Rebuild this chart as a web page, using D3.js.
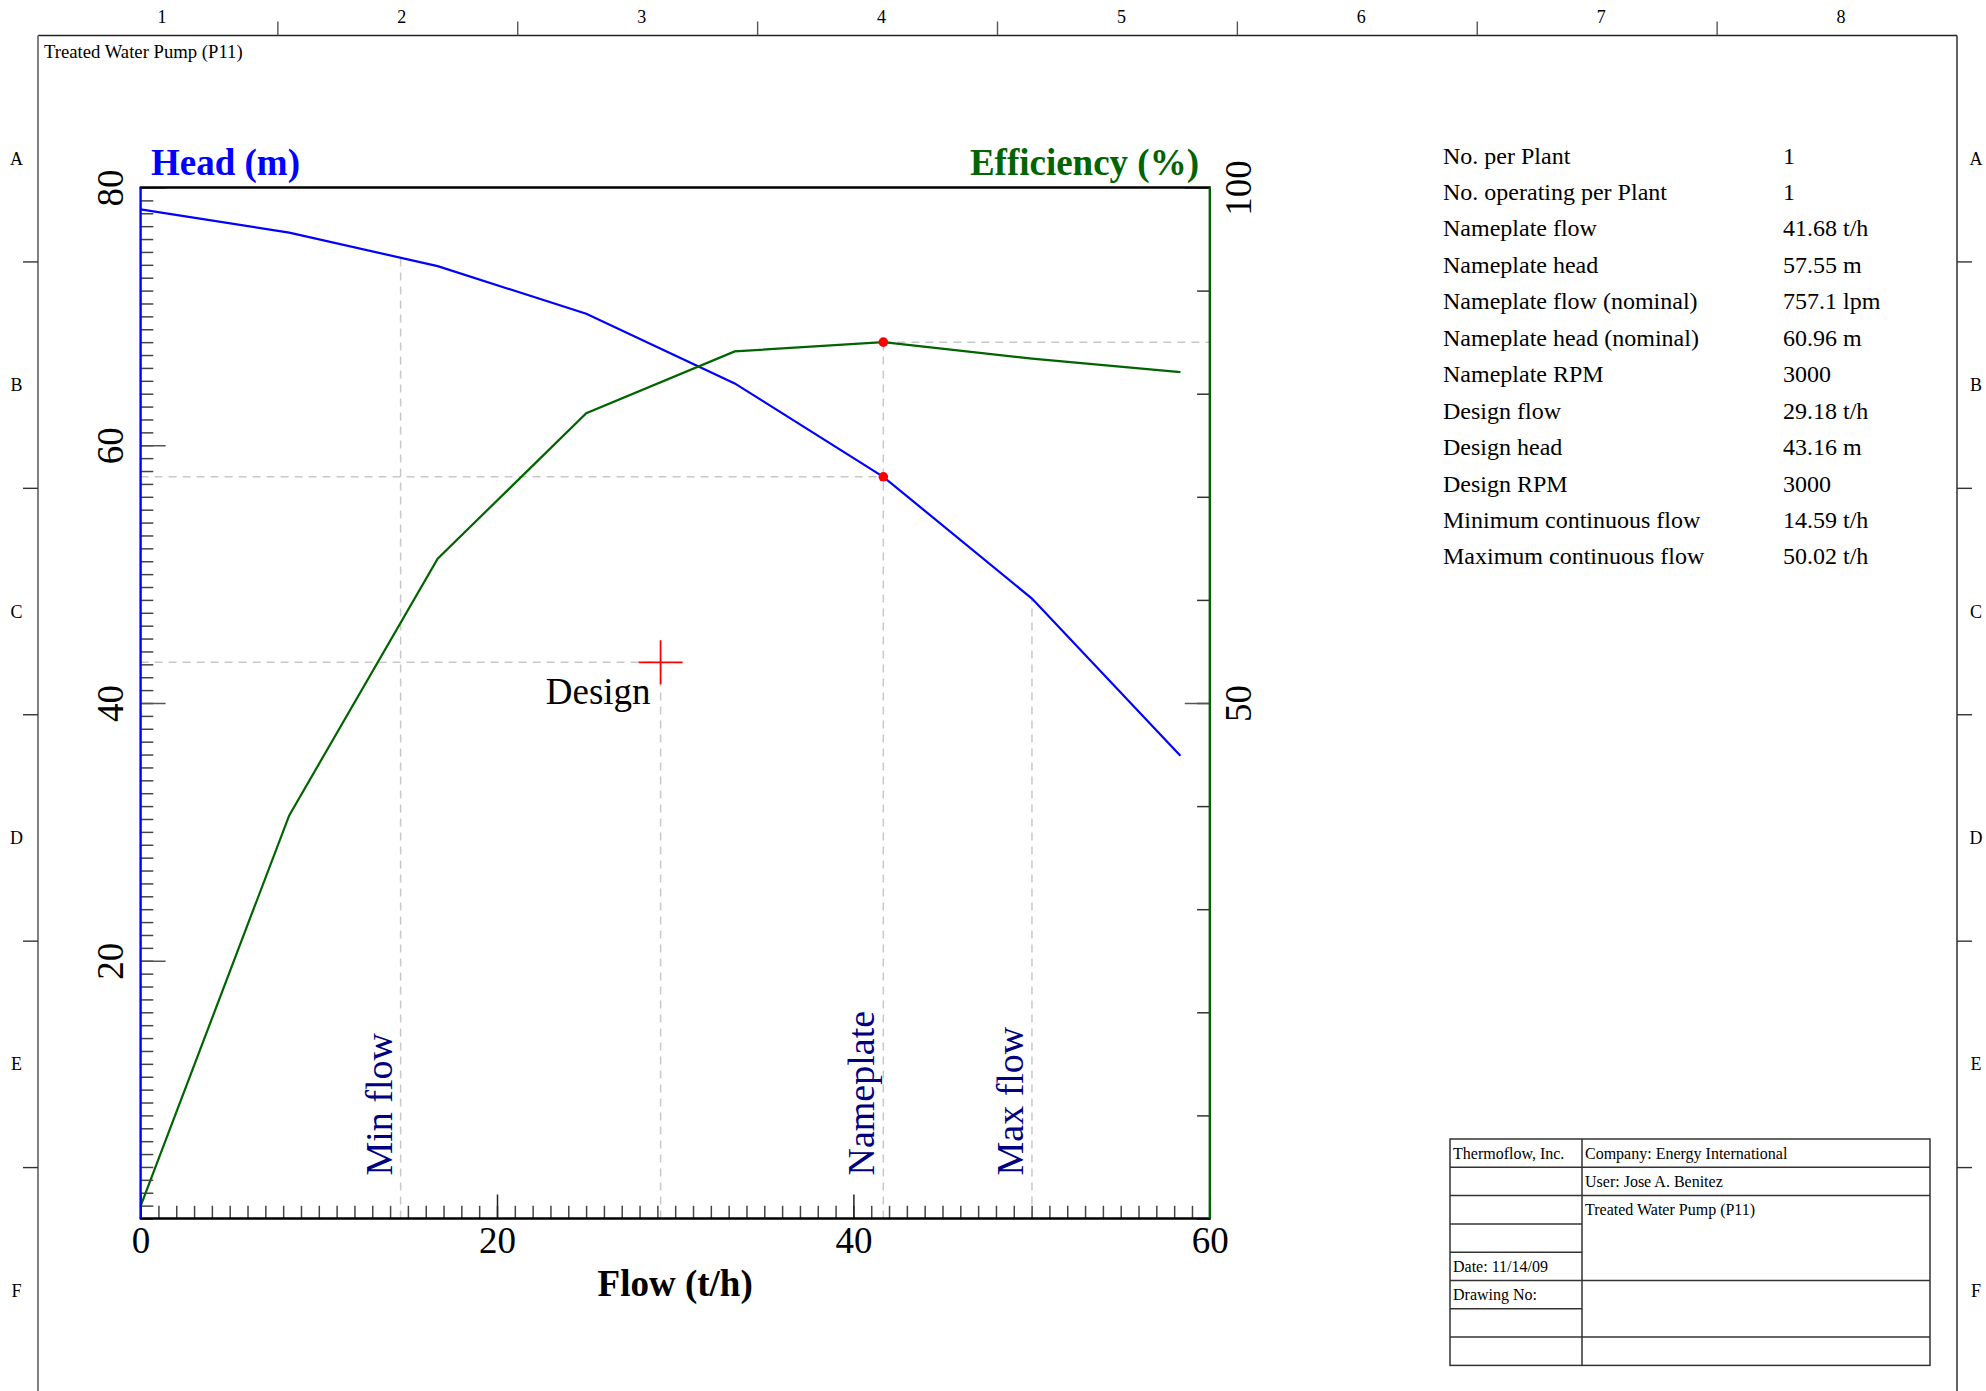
<!DOCTYPE html>
<html><head><meta charset="utf-8">
<script src="https://cdn.jsdelivr.net/npm/d3@7"></script>
<style>
html,body{margin:0;padding:0;background:#fff;}
svg{display:block;font-family:"Liberation Serif","Times New Roman",serif;}
</style></head><body>
<svg id="chart" width="1986" height="1391"></svg>
<script>
// ---- data ----
const flow = [0, 8.34, 16.67, 25.01, 33.34, 41.68, 50.02, 58.35];
const head = [78.3, 76.5, 73.9, 70.2, 64.8, 57.55, 48.1, 35.9];
const efficiency = [1.2, 39.1, 64.0, 78.1, 84.1, 85.0, 83.4, 82.1];
const flowTicks = [0, 20, 40, 60];
const headTicks = [20, 40, 60, 80];
const effTicks = [50, 100];
const markerNames = ["Min flow", "Nameplate", "Max flow"];
const markerFlows = [14.59, 41.68, 50.02];
const nameplateFlow = 41.68, nameplateHead = 57.55, nameplateEff = 85.0;
const designFlow = 29.18, designHead = 43.16;
const infoLabels = ["No. per Plant", "No. operating per Plant", "Nameplate flow", "Nameplate head",
  "Nameplate flow (nominal)", "Nameplate head (nominal)", "Nameplate RPM", "Design flow",
  "Design head", "Design RPM", "Minimum continuous flow", "Maximum continuous flow"];
const infoValues = ["1", "1", "41.68 t/h", "57.55 m", "757.1 lpm", "60.96 m", "3000",
  "29.18 t/h", "43.16 m", "3000", "14.59 t/h", "50.02 t/h"];
const columnLabels = ["1", "2", "3", "4", "5", "6", "7", "8"];
const rowLabels = ["A", "B", "C", "D", "E", "F"];
const titleLeft = ["Thermoflow, Inc.", "", "", "", "Date: 11/14/09", "Drawing No:", "", ""];
const titleRight = ["Company: Energy International", "User: Jose A. Benitez", "Treated Water Pump (P11)", "", ""];
const pageTitle = "Treated Water Pump (P11)";

// ---- layout ----
const svg = d3.select("#chart");
const L = 140.6, R = 1209.8, T = 187.5, B = 1218.5;
const x = d3.scaleLinear().domain([0, 60]).range([L, R]);
const yH = d3.scaleLinear().domain([0, 80]).range([B, T]);
const yE = d3.scaleLinear().domain([0, 100]).range([B, T]);
const serif = '"Liberation Serif","Times New Roman",serif';

// ---- drawing frame ----
const fL = 38, fR = 1957, fT = 35.5, fB = 1394;
const colW = (fR - fL) / 8, rowH = (fB - fT) / 6;
const frame = svg.append("g");
frame.append("line").attr("x1", fL).attr("x2", fR).attr("y1", fT).attr("y2", fT).attr("stroke", "#222").attr("stroke-width", 1.6);
frame.append("line").attr("x1", fL).attr("x2", fL).attr("y1", fT).attr("y2", 1391).attr("stroke", "#808080").attr("stroke-width", 2);
frame.append("line").attr("x1", fR).attr("x2", fR).attr("y1", fT).attr("y2", 1391).attr("stroke", "#222").attr("stroke-width", 1.4);
for (let k = 1; k < 8; k++) {
  frame.append("line").attr("x1", fL + k * colW).attr("x2", fL + k * colW).attr("y1", 21.5).attr("y2", fT).attr("stroke", "#555").attr("stroke-width", 1.4);
}
columnLabels.forEach((c, k) => {
  frame.append("text").attr("x", fL + (k + 0.5) * colW + 4).attr("y", 22.5).attr("text-anchor", "middle")
    .attr("font-size", 18).text(c);
});
for (let k = 1; k < 6; k++) {
  const yy = fT + k * rowH;
  frame.append("line").attr("x1", 23).attr("x2", fL).attr("y1", yy).attr("y2", yy).attr("stroke", "#333").attr("stroke-width", 1.4);
  frame.append("line").attr("x1", fR).attr("x2", fR + 15).attr("y1", yy).attr("y2", yy).attr("stroke", "#333").attr("stroke-width", 1.4);
}
rowLabels.forEach((r, k) => {
  const yy = fT + (k + 0.5) * rowH + 16;
  frame.append("text").attr("x", 16.5).attr("y", yy).attr("text-anchor", "middle").attr("font-size", 18).text(r);
  frame.append("text").attr("x", 1976).attr("y", yy).attr("text-anchor", "middle").attr("font-size", 18).text(r);
});
frame.append("text").attr("x", 44).attr("y", 58).attr("font-size", 18.7).text(pageTitle);

// ---- guide lines ----
const guides = svg.append("g").attr("stroke", "#c8c8c8").attr("stroke-width", 1.5).attr("stroke-dasharray", "8,6").attr("fill", "none");
const headAt = f => {
  const i = d3.bisectRight(flow, f) - 1;
  const t = (f - flow[i]) / (flow[i + 1] - flow[i]);
  return head[i] + t * (head[i + 1] - head[i]);
};
[markerFlows[0], markerFlows[2]].forEach(f => {
  guides.append("line").attr("x1", x(f)).attr("x2", x(f)).attr("y1", B).attr("y2", yH(headAt(f)));
});
guides.append("line").attr("x1", x(nameplateFlow)).attr("x2", x(nameplateFlow)).attr("y1", B).attr("y2", yE(nameplateEff));
guides.append("line").attr("x1", x(designFlow)).attr("x2", x(designFlow)).attr("y1", B).attr("y2", yH(designHead));
guides.append("line").attr("x1", L).attr("x2", x(nameplateFlow)).attr("y1", yH(nameplateHead)).attr("y2", yH(nameplateHead));
guides.append("line").attr("x1", L).attr("x2", x(designFlow)).attr("y1", yH(designHead)).attr("y2", yH(designHead));
guides.append("line").attr("x1", x(nameplateFlow)).attr("x2", R).attr("y1", yE(nameplateEff)).attr("y2", yE(nameplateEff));

// ---- curves ----
const headLine = d3.line().x((d, i) => x(flow[i])).y(d => yH(d));
const effLine = d3.line().x((d, i) => x(flow[i])).y(d => yE(d));
svg.append("path").datum(head).attr("d", headLine).attr("fill", "none").attr("stroke", "#0000ff").attr("stroke-width", 2.2);
svg.append("path").datum(efficiency).attr("d", effLine).attr("fill", "none").attr("stroke", "#006400").attr("stroke-width", 2.2);

// ---- axes ----
function styleTicks(g, color) {
  g.select(".domain").remove();
  g.selectAll(".tick line").attr("stroke", color).attr("stroke-width", 1.5);
}
const gxMinor = svg.append("g").attr("transform", `translate(0,${B})`)
  .call(d3.axisBottom(x).tickValues(d3.range(0, 61, 1)).tickSize(-12.7).tickFormat(""));
styleTicks(gxMinor, "#444");
const gxMajor = svg.append("g").attr("transform", `translate(0,${B})`)
  .call(d3.axisBottom(x).tickValues(flowTicks).tickSize(-24).tickPadding(8).tickFormat(d3.format("d")));
styleTicks(gxMajor, "#222");
gxMajor.selectAll("text").attr("font-family", serif).attr("font-size", 37).attr("fill", "#000");

const gyMinor = svg.append("g").attr("transform", `translate(${L},0)`)
  .call(d3.axisLeft(yH).tickValues(d3.range(0, 81, 1)).tickSize(-12.7).tickFormat(""));
styleTicks(gyMinor, "#444");
const gyMajor = svg.append("g").attr("transform", `translate(${L},0)`)
  .call(d3.axisLeft(yH).tickValues(headTicks).tickSize(-25).tickFormat(d3.format("d")));
styleTicks(gyMajor, "#555");
gyMajor.selectAll("text").attr("x", null).attr("dy", null).attr("text-anchor", "middle")
  .attr("transform", "translate(-18,0) rotate(-90)")
  .attr("font-family", serif).attr("font-size", 37).attr("fill", "#000");

const geMinor = svg.append("g").attr("transform", `translate(${R},0)`)
  .call(d3.axisRight(yE).tickValues(d3.range(0, 101, 10)).tickSize(-12.7).tickFormat(""));
styleTicks(geMinor, "#333");
const geMajor = svg.append("g").attr("transform", `translate(${R},0)`)
  .call(d3.axisRight(yE).tickValues(effTicks).tickSize(-25).tickFormat(d3.format("d")));
styleTicks(geMajor, "#555");
geMajor.selectAll("text").attr("x", null).attr("dy", null).attr("text-anchor", "middle")
  .attr("transform", "translate(41,0) rotate(-90)")
  .attr("font-family", serif).attr("font-size", 37).attr("fill", "#000");

// plot border
svg.append("line").attr("x1", L - 1).attr("x2", R + 1).attr("y1", T).attr("y2", T).attr("stroke", "#000").attr("stroke-width", 2.6);
svg.append("line").attr("x1", L - 1).attr("x2", R + 1).attr("y1", B).attr("y2", B).attr("stroke", "#000").attr("stroke-width", 2.6);
svg.append("line").attr("x1", L).attr("x2", L).attr("y1", T).attr("y2", B).attr("stroke", "#0000ff").attr("stroke-width", 2.4);
svg.append("line").attr("x1", R).attr("x2", R).attr("y1", T).attr("y2", B).attr("stroke", "#006400").attr("stroke-width", 2.4);

// ---- markers ----
svg.append("circle").attr("cx", x(nameplateFlow)).attr("cy", yH(nameplateHead)).attr("r", 4.8).attr("fill", "#ff0000");
svg.append("circle").attr("cx", x(nameplateFlow)).attr("cy", yE(nameplateEff)).attr("r", 4.8).attr("fill", "#ff0000");
const dx = x(designFlow), dy = yH(designHead);
svg.append("line").attr("x1", dx - 22).attr("x2", dx + 22).attr("y1", dy).attr("y2", dy).attr("stroke", "#ff0000").attr("stroke-width", 1.8);
svg.append("line").attr("x1", dx).attr("x2", dx).attr("y1", dy - 22).attr("y2", dy + 22).attr("stroke", "#ff0000").attr("stroke-width", 1.8);
svg.append("text").attr("x", dx - 10).attr("y", dy + 42).attr("text-anchor", "end").attr("font-size", 37).attr("fill", "#000").text("Design");

markerNames.forEach((name, i) => {
  const lx = x(markerFlows[i]) - 9;
  svg.append("text").attr("transform", `translate(${lx},${B - 43}) rotate(-90)`)
    .attr("font-size", 38).attr("fill", "#000080").text(name);
});

// ---- titles ----
svg.append("text").attr("x", 151).attr("y", 175).attr("font-size", 37).attr("font-weight", "bold").attr("fill", "#0000ff").text("Head (m)");
svg.append("text").attr("x", 1199).attr("y", 175).attr("text-anchor", "end").attr("font-size", 37).attr("font-weight", "bold").attr("fill", "#006400").text("Efficiency (%)");
svg.append("text").attr("x", (L + R) / 2).attr("y", 1296).attr("text-anchor", "middle").attr("font-size", 37).attr("font-weight", "bold").attr("fill", "#000").text("Flow (t/h)");

// ---- info table ----
const info = svg.append("g").attr("font-size", 24).attr("fill", "#000");
infoLabels.forEach((lab, i) => {
  const yy = 163.5 + i * 36.45;
  info.append("text").attr("x", 1443).attr("y", yy).text(lab);
  info.append("text").attr("x", 1783).attr("y", yy).text(infoValues[i]);
});

// ---- title block ----
const tbL = 1450, tbM = 1582, tbR = 1930, tbT = 1139, tbRow = 28.3;
const tb = svg.append("g");
const tbStroke = "#333";
tb.append("rect").attr("x", tbL).attr("y", tbT).attr("width", tbR - tbL).attr("height", tbRow * 8).attr("fill", "none").attr("stroke", tbStroke).attr("stroke-width", 1.5);
tb.append("line").attr("x1", tbM).attr("x2", tbM).attr("y1", tbT).attr("y2", tbT + 8 * tbRow).attr("stroke", tbStroke).attr("stroke-width", 1.5);
for (let k = 1; k < 8; k++) {
  tb.append("line").attr("x1", tbL).attr("x2", tbM).attr("y1", tbT + k * tbRow).attr("y2", tbT + k * tbRow).attr("stroke", tbStroke).attr("stroke-width", 1.5);
}
[1, 2, 5, 7].forEach(k => {
  tb.append("line").attr("x1", tbM).attr("x2", tbR).attr("y1", tbT + k * tbRow).attr("y2", tbT + k * tbRow).attr("stroke", tbStroke).attr("stroke-width", 1.5);
});
titleLeft.forEach((t, k) => {
  if (t) tb.append("text").attr("x", tbL + 3).attr("y", tbT + (k + 0.5) * tbRow + 5.5).attr("font-size", 16).text(t);
});
titleRight.forEach((t, k) => {
  if (t) tb.append("text").attr("x", tbM + 3).attr("y", tbT + (k + 0.5) * tbRow + 5.5).attr("font-size", 16).text(t);
});
</script>
</body></html>
